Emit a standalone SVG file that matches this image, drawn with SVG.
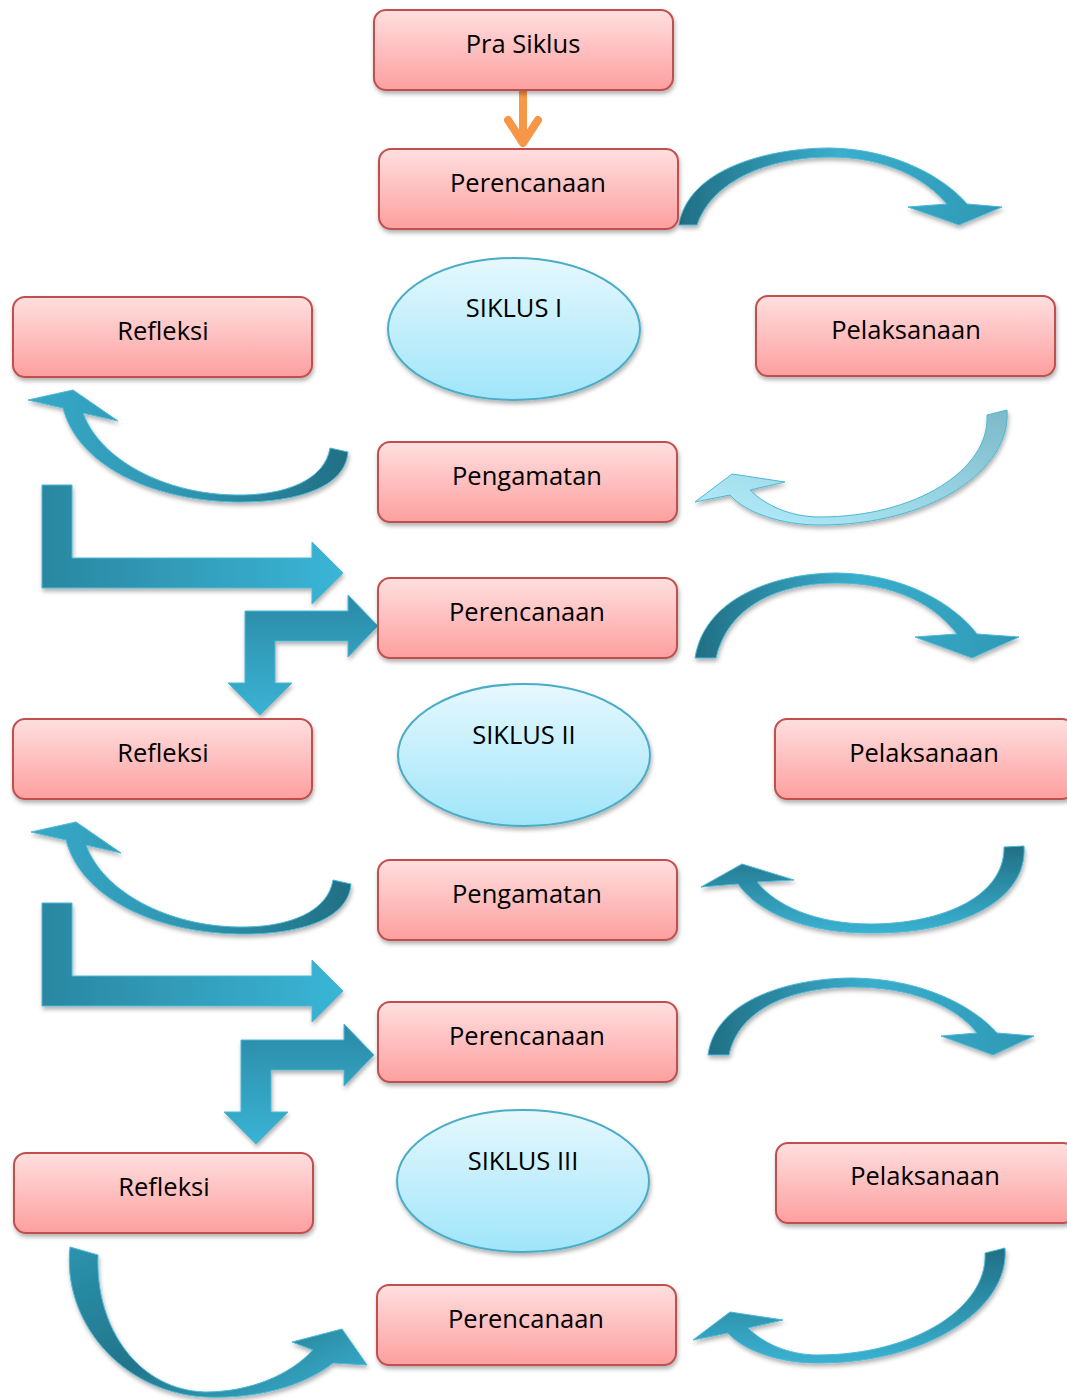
<svg xmlns="http://www.w3.org/2000/svg" width="1067" height="1400" viewBox="0 0 1067 1400">
<defs>
  <linearGradient id="gBox" x1="0" y1="0" x2="0" y2="1">
    <stop offset="0" stop-color="#ffdfdf"/>
    <stop offset="1" stop-color="#fd9f9f"/>
  </linearGradient>
  <linearGradient id="gEll" x1="0" y1="0" x2="0" y2="1">
    <stop offset="0" stop-color="#e6f8fd"/>
    <stop offset="1" stop-color="#9fe5fa"/>
  </linearGradient>
  <linearGradient id="gLR" x1="0" y1="0" x2="1" y2="0">
    <stop offset="0" stop-color="#216f84"/>
    <stop offset="0.5" stop-color="#3aaecd"/>
    <stop offset="1" stop-color="#2f98b5"/>
  </linearGradient>
  <linearGradient id="gRL" x1="1" y1="0" x2="0" y2="0">
    <stop offset="0" stop-color="#216f84"/>
    <stop offset="0.5" stop-color="#2f95b0"/>
    <stop offset="1" stop-color="#36a9c8"/>
  </linearGradient>
  <linearGradient id="gTB" x1="0" y1="0" x2="0" y2="1">
    <stop offset="0" stop-color="#216f84"/>
    <stop offset="1" stop-color="#3ab2d2"/>
  </linearGradient>
  <linearGradient id="gLight" x1="0" y1="1" x2="1" y2="0">
    <stop offset="0" stop-color="#b5effd"/>
    <stop offset="1" stop-color="#7cb9c9"/>
  </linearGradient>
  <linearGradient id="gC8" x1="0" y1="0" x2="1" y2="1">
    <stop offset="0" stop-color="#2b93ae"/>
    <stop offset="0.5" stop-color="#22758a"/>
    <stop offset="1" stop-color="#3ab4d4"/>
  </linearGradient>
  <linearGradient id="gL1" x1="0" y1="0" x2="1" y2="0">
    <stop offset="0" stop-color="#2a87a1"/>
    <stop offset="1" stop-color="#3ab5d6"/>
  </linearGradient>
  <linearGradient id="gL2" x1="0" y1="0" x2="0" y2="1">
    <stop offset="0" stop-color="#2a8aa6"/>
    <stop offset="1" stop-color="#3ab3d4"/>
  </linearGradient>
  <filter id="sh" x="-10%" y="-10%" width="125%" height="135%">
    <feDropShadow dx="1" dy="3" stdDeviation="2" flood-color="#000" flood-opacity="0.3"/>
  </filter>
</defs>
<style>
  .box { fill: url(#gBox); stroke: #c0504d; stroke-width: 2; filter: url(#sh); }
  .ell { fill: url(#gEll); stroke: #4bacc6; stroke-width: 2; filter: url(#sh); }
  .t { font-family: "Open Sans", "Noto Sans", sans-serif; font-size: 25.5px; fill: #000; text-anchor: middle; }
  .arr { stroke: #4cb8d6; stroke-width: 1; filter: url(#sh); }
</style>

<g id="connectors">
  <g id="orange-arrow" fill="none" stroke="#f79646" stroke-width="8" stroke-linecap="round" stroke-linejoin="round">
    <line x1="523" y1="92" x2="523" y2="142"/>
    <polyline points="508,120 523,143 538,120"/>
  </g>
  <path id="c1" class="arr" fill="url(#gLR)" d="M 679,225 C 688,168 770,148 830,148 C 895,149 945,178 967,204 L 1002,207 L 959,225 L 908,207 L 947,204 C 925,178 885,157 830,157 C 770,157 712,180 697,225 Z"/>
  <path id="c2" class="arr" fill="url(#gRL)" d="M 348,452 C 345,490 290,503 235,502 C 150,500 78,465 63,408 L 28,400 L 73,390 L 118,421 L 83,413 C 100,460 165,494 235,495 C 285,496 325,480 330,448 Z"/>
  <path id="L1" class="arr" fill="url(#gL1)" d="M 42,485 L 72,485 L 72,558 L 312,558 L 312,542 L 343,573 L 312,604 L 312,588 L 42,588 Z"/>
  <path id="L2" class="arr" fill="url(#gL2)" d="M 245,611 L 348,611 L 348,595 L 378,626 L 348,657 L 348,641 L 275,641 L 275,683 L 292,683 L 260,715 L 228,683 L 245,683 Z"/>
  <path id="c3" class="arr" fill="url(#gLight)" d="M 1007,410 C 1012,470 930,525 820,525 C 780,525 745,512 730,495 L 695,502 L 732,474 L 785,482 L 750,490 C 765,505 790,517 820,517 C 915,517 990,470 987,415 Z"/>
  <path id="c4" class="arr" fill="url(#gLR)" d="M 695,658 C 705,595 780,573 837,573 C 905,574 955,605 977,634 L 1019,637 L 972,658 L 915,637 L 957,634 C 935,605 895,583 837,583 C 780,583 728,605 716,658 Z"/>
  <path id="c5" class="arr" fill="url(#gRL)" transform="translate(3,432)" d="M 348,452 C 345,490 290,503 235,502 C 150,500 78,465 63,408 L 28,400 L 73,390 L 118,421 L 83,413 C 100,460 165,494 235,495 C 285,496 325,480 330,448 Z"/>
  <path id="c6" class="arr" fill="url(#gTB)" d="M 1024,846 C 1028,900 960,934 870,933 C 810,933 760,915 738,884 L 701,887 L 742,864 L 794,880 L 757,882 C 775,905 815,924 870,924 C 945,924 1005,895 1004,847 Z"/>
  <path id="L3" class="arr" fill="url(#gL1)" transform="translate(0,418)" d="M 42,485 L 72,485 L 72,558 L 312,558 L 312,542 L 343,573 L 312,604 L 312,588 L 42,588 Z"/>
  <path id="L4" class="arr" fill="url(#gL2)" transform="translate(-4,429)" d="M 245,611 L 348,611 L 348,595 L 378,626 L 348,657 L 348,641 L 275,641 L 275,683 L 292,683 L 260,715 L 228,683 L 245,683 Z"/>
  <path id="c7" class="arr" fill="url(#gLR)" d="M 708,1055 C 715,1000 790,978 853,978 C 925,979 975,1008 997,1033 L 1034,1036 L 993,1055 L 941,1036 L 977,1033 C 955,1005 910,987 853,987 C 790,987 738,1010 729,1055 Z"/>
  <path id="c8" class="arr" fill="url(#gC8)" d="M 70,1247 C 62,1320 120,1392 205,1397 C 260,1399 305,1385 333,1363 L 367,1365 L 342,1329 L 292,1342 L 313,1350 C 290,1375 250,1392 205,1392 C 140,1390 95,1330 98,1255 Z"/>
  <path id="c9" class="arr" fill="url(#gTB)" transform="translate(-2,838)" d="M 1007,410 C 1012,470 930,525 820,525 C 780,525 745,512 730,495 L 695,502 L 732,474 L 785,482 L 750,490 C 765,505 790,517 820,517 C 915,517 990,470 987,415 Z"/>
</g>

<g id="n-prasiklus"><rect class="box" x="374" y="10" width="299" height="80" rx="12"/><text class="t" x="523" y="53">Pra Siklus</text></g>
<g id="n-perencanaan1"><rect class="box" x="379" y="149" width="299" height="80" rx="12"/><text class="t" x="528" y="192">Perencanaan</text></g>
<g id="n-refleksi1"><rect class="box" x="13" y="297" width="299" height="80" rx="12"/><text class="t" x="163" y="340">Refleksi</text></g>
<g id="n-siklus1"><ellipse class="ell" cx="514" cy="329" rx="126" ry="71"/><text class="t" x="514" y="317">SIKLUS I</text></g>
<g id="n-pelaksanaan1"><rect class="box" x="756" y="296" width="299" height="80" rx="12"/><text class="t" x="906" y="339">Pelaksanaan</text></g>
<g id="n-pengamatan1"><rect class="box" x="378" y="442" width="299" height="80" rx="12"/><text class="t" x="527" y="485">Pengamatan</text></g>
<g id="n-perencanaan2"><rect class="box" x="378" y="578" width="299" height="80" rx="12"/><text class="t" x="527" y="621">Perencanaan</text></g>
<g id="n-refleksi2"><rect class="box" x="13" y="719" width="299" height="80" rx="12"/><text class="t" x="163" y="762">Refleksi</text></g>
<g id="n-siklus2"><ellipse class="ell" cx="524" cy="755" rx="126" ry="71"/><text class="t" x="524" y="744">SIKLUS II</text></g>
<g id="n-pelaksanaan2"><rect class="box" x="775" y="719" width="299" height="80" rx="12"/><text class="t" x="924" y="762">Pelaksanaan</text></g>
<g id="n-pengamatan2"><rect class="box" x="378" y="860" width="299" height="80" rx="12"/><text class="t" x="527" y="903">Pengamatan</text></g>
<g id="n-perencanaan3"><rect class="box" x="378" y="1002" width="299" height="80" rx="12"/><text class="t" x="527" y="1045">Perencanaan</text></g>
<g id="n-refleksi3"><rect class="box" x="14" y="1153" width="299" height="80" rx="12"/><text class="t" x="164" y="1196">Refleksi</text></g>
<g id="n-siklus3"><ellipse class="ell" cx="523" cy="1181" rx="126" ry="71"/><text class="t" x="523" y="1170">SIKLUS III</text></g>
<g id="n-pelaksanaan3"><rect class="box" x="776" y="1143" width="299" height="80" rx="12"/><text class="t" x="925" y="1185">Pelaksanaan</text></g>
<g id="n-perencanaan4"><rect class="box" x="377" y="1285" width="299" height="80" rx="12"/><text class="t" x="526" y="1328">Perencanaan</text></g>
</svg>
